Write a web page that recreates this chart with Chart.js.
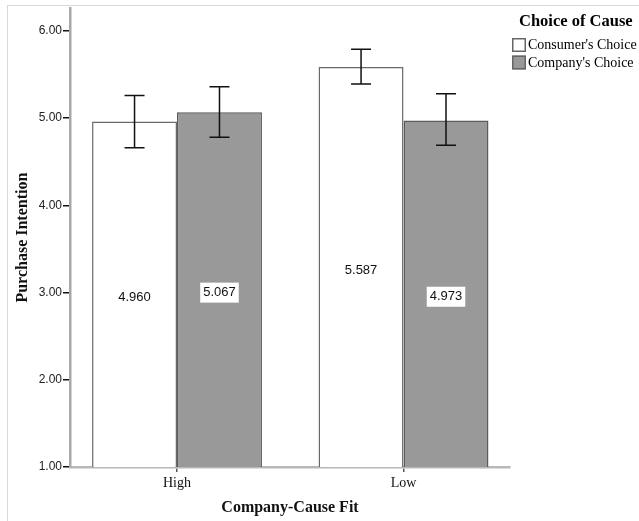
<!DOCTYPE html>
<html>
<head>
<meta charset="utf-8">
<script src="https://cdn.jsdelivr.net/npm/chart.js@4"></script>
<style>
  html, body { margin:0; padding:0; background:#fff; }
  #wrap { position:relative; width:639px; height:521px; }
  #frame { position:absolute; left:7px; top:5px; right:0; bottom:0; border-left:1px solid #d8d8d8; border-top:1px solid #d8d8d8; }
  canvas { position:absolute; left:0; top:0; }
</style>
</head>
<body>
<div id="wrap"><div id="frame"></div><canvas id="c" width="639" height="521"></canvas></div>
<script>
// groups on the x axis
const categories = ['High', 'Low'];
const seriesNames = ["Consumer's Choice", "Company's Choice"];
// mean purchase intention
const consumerMeans = [4.960, 5.587];
const companyMeans  = [5.067, 4.973];
// 95% CI bounds
const consumerLower = [4.66, 5.39];
const consumerUpper = [5.26, 5.79];
const companyLower  = [4.78, 4.69];
const companyUpper  = [5.36, 5.28];
const yTicks = [1, 2, 3, 4, 5, 6];

const errBounds = [[consumerLower, consumerUpper], [companyLower, companyUpper]];

const errorBars = {
  id: 'errorBars',
  afterDatasetsDraw(chart){
    const ctx = chart.ctx, ys = chart.scales.y;
    chart.data.datasets.forEach((ds, di) => {
      const meta = chart.getDatasetMeta(di);
      meta.data.forEach((bar, i) => {
        const lo = ys.getPixelForValue(errBounds[di][0][i]);
        const hi = ys.getPixelForValue(errBounds[di][1][i]);
        ctx.save();
        ctx.strokeStyle = '#111'; ctx.lineWidth = 1.5;
        ctx.beginPath();
        ctx.moveTo(bar.x, lo); ctx.lineTo(bar.x, hi);
        ctx.moveTo(bar.x - 10, lo); ctx.lineTo(bar.x + 10, lo);
        ctx.moveTo(bar.x - 10, hi); ctx.lineTo(bar.x + 10, hi);
        ctx.stroke();
        ctx.restore();
      });
    });
  }
};

const valueLabels = {
  id: 'valueLabels',
  afterDatasetsDraw(chart){
    const ctx = chart.ctx;
    const bottom = chart.chartArea.bottom;
    ctx.save();
    ctx.font = '13px "Liberation Sans", Arial, sans-serif';
    ctx.textAlign = 'center'; ctx.textBaseline = 'middle';
    chart.data.datasets.forEach((ds, di) => {
      chart.getDatasetMeta(di).data.forEach((bar, i) => {
        const txt = ds.data[i].y.toFixed(3);
        const y = (bar.y + Math.min(bar.base, bottom)) / 2 + 3;
        if (di === 1) {
          const w = ctx.measureText(txt).width + 6;
          ctx.fillStyle = '#fff';
          ctx.fillRect(bar.x - w/2, y - 10, w, 20);
        }
        ctx.fillStyle = '#111';
        ctx.fillText(txt, bar.x, y);
      });
    });
    ctx.restore();
  }
};

const sideLegend = {
  id: 'sideLegend',
  afterDraw(chart){
    const ctx = chart.ctx;
    const x0 = chart.chartArea.right + 2;
    ctx.save();
    ctx.fillStyle = '#000';
    ctx.font = 'bold 16.5px "Liberation Serif", "Times New Roman", serif';
    ctx.textAlign = 'left'; ctx.textBaseline = 'middle';
    ctx.fillText('Choice of Cause', x0 + 7, 22);
    ctx.font = '14px "Liberation Serif", "Times New Roman", serif';
    chart.data.datasets.forEach((ds, di) => {
      const top = 38 + di * 17.5;
      ctx.fillStyle = ds.backgroundColor;
      ctx.fillRect(x0, top, 14, 14);
      ctx.strokeStyle = '#666'; ctx.lineWidth = 1.5;
      ctx.strokeRect(x0 + 0.75, top + 0.75, 12.5, 12.5);
      ctx.fillStyle = '#000';
      ctx.fillText(ds.label, x0 + 16, top + 7.5);
    });
    ctx.restore();
  }
};

const serifBold = { family: '"Liberation Serif", "Times New Roman", serif', size: 16, weight: 'bold' };

new Chart(document.getElementById('c'), {
  type: 'bar',
  data: {
    datasets: [
      { label: seriesNames[0], data: consumerMeans.map((v, i) => ({ x: i, y: v })),
        backgroundColor: '#ffffff', borderColor: '#6a6a6a', borderWidth: 1.5 },
      { label: seriesNames[1], data: companyMeans.map((v, i) => ({ x: i, y: v })),
        backgroundColor: '#999999', borderColor: '#5a5a5a', borderWidth: 1.5 }
    ]
  },
  options: {
    responsive: false,
    animation: false,
    layout: { padding: { top: 7, right: 129, left: 0, bottom: 0 } },
    datasets: { bar: { categoryPercentage: 0.75, barPercentage: 1 } },
    plugins: { legend: { display: false }, tooltip: { enabled: false } },
    scales: {
      x: {
        type: 'linear', min: -0.4724, max: 1.470, offset: false,
        afterBuildTicks: s => { s.ticks = categories.map((c, i) => ({ value: i })); },
        afterFit: s => { s.height = 54; },
        ticks: { callback: v => categories[v], color: '#111', padding: 3,
                 font: { family: '"Liberation Serif", "Times New Roman", serif', size: 14 } },
        grid: { offset: false, drawOnChartArea: false, tickLength: 5, color: '#555', lineWidth: 1.5 },
        border: { color: '#b8b8b8', width: 2.5 },
        title: { display: true, text: 'Company-Cause Fit', font: serifBold, color: '#111', padding: { top: 2 } }
      },
      y: {
        min: 1, max: 6.26,
        afterBuildTicks: s => { s.ticks = yTicks.map(v => ({ value: v })); },
        afterFit: s => { s.width = 70; },
        ticks: { callback: v => v.toFixed(2), color: '#222', padding: 1,
                 font: { family: '"Liberation Sans", Arial, sans-serif', size: 12 } },
        grid: { drawOnChartArea: false, tickLength: 7, color: '#111', lineWidth: 1.5 },
        border: { color: '#a8a8a8', width: 2.5 },
        title: { display: true, text: 'Purchase Intention', font: serifBold, color: '#111', padding: { top: 13, bottom: 4 } }
      }
    }
  },
  plugins: [errorBars, valueLabels, sideLegend]
});
</script>
</body>
</html>
